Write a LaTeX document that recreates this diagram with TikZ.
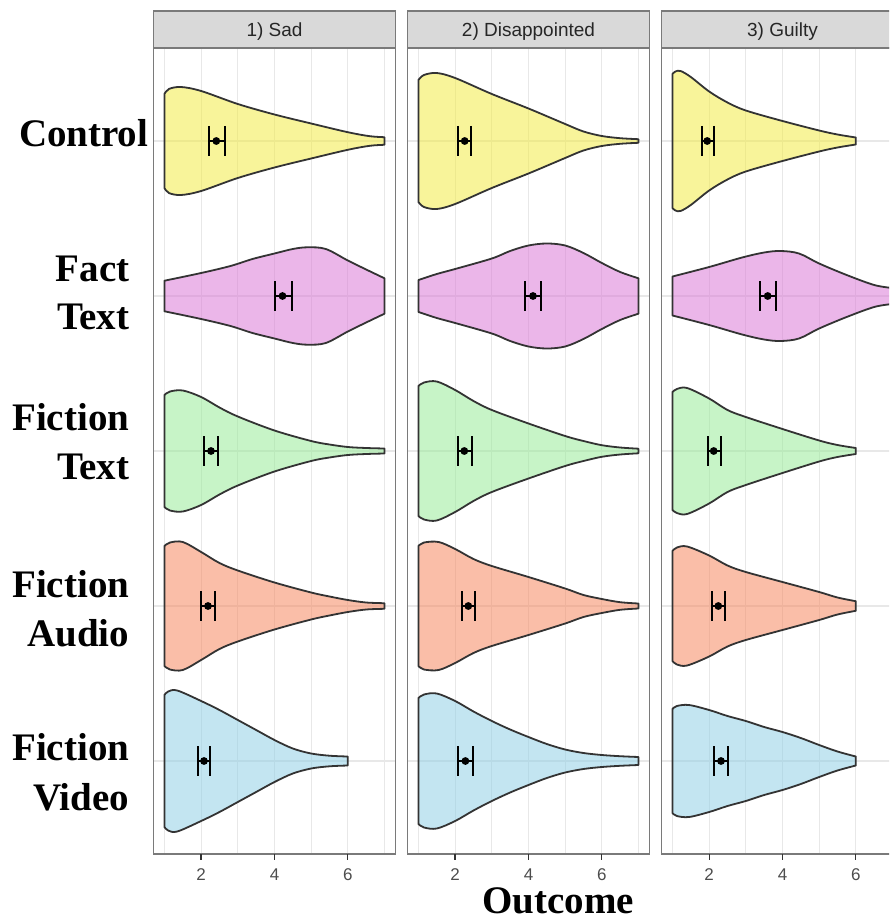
\documentclass[tikz,border=0pt]{standalone}
\usepackage{fontspec}
\setmainfont{Liberation Serif}
\newfontfamily\stripfont{Liberation Sans}

\definecolor{vyellow}{HTML}{F3EB37}
\definecolor{vpink}{HTML}{D96FD5}
\definecolor{vgreen}{HTML}{91EB91}
\definecolor{vsalmon}{HTML}{F77F53}
\definecolor{vblue}{HTML}{89CDE5}
\definecolor{gridgray}{HTML}{E8E8E8}
\definecolor{framegray}{HTML}{7A7A7A}
\definecolor{stripfill}{HTML}{D9D9D9}
\definecolor{outline}{HTML}{333333}
\definecolor{ticktext}{HTML}{4D4D4D}

% one violin: #1 x of value 0 (pt), #2 row centre (pt), #3 colour, #4 list value/half-width
\newcommand\violin[4]{%
  \gdef\vup{}\gdef\vdn{}%
  \foreach \vx/\vh in {#4}{\xdef\vup{\vup(\vx,\vh)}\xdef\vdn{(\vx,-\vh)\vdn}}%
  \begin{scope}[shift={(#1,#2)},x=36.67pt,y=1pt]
    \edef\vpath{\noexpand\draw[violinbody,fill=#3] plot[smooth,tension=0.55] coordinates {\vup}
      -- plot[smooth,tension=0.55] coordinates {\vdn} -- cycle;}%
    \vpath
  \end{scope}}

% mean with interval: #1 left cap, #2 mean, #3 right cap, #4 row centre
\newcommand\meanbar[4]{%
  \draw[ebar] (#1,#4-15) -- (#1,#4+15) (#1,#4) -- (#3,#4) (#3,#4-15) -- (#3,#4+15);
  \fill (#2,#4) circle[radius=3.9pt];}

\begin{document}
\begin{tikzpicture}[x=1pt,y=-1pt,
  violinbody/.style={draw=outline,line width=1.8pt,fill opacity=0.5,line join=round},
  ebar/.style={black,line width=2pt},
  majorgrid/.style={gridgray,line width=1.2pt},
  minorgrid/.style={gridgray,line width=0.8pt},
  frame/.style={draw=framegray,line width=1.3pt},
  stripbox/.style={draw=framegray,fill=stripfill,line width=1.3pt},
  striptext/.style={font=\stripfont\fontsize{19}{22}\selectfont,text=black!85,anchor=base},
  ticklab/.style={font=\stripfont\fontsize{17}{20}\selectfont,text=ticktext,anchor=base},
  rowlab/.style={font=\bfseries\fontsize{39}{46}\selectfont,anchor=base east,inner sep=0pt},
  tickmark/.style={outline,line width=1.3pt}]

\useasboundingbox (0,0) rectangle (889,920);
\fill[white] (0,0) rectangle (889,920);
\clip (0,0) rectangle (889,920);

% grid of the three panels
\foreach \xo in {127.8,381.8,635.8}{
  \foreach \v in {1,3,5,7}
    \draw[minorgrid] ({\xo+\v*36.67},48) -- ({\xo+\v*36.67},854);
  \foreach \v in {2,4,6}
    \draw[majorgrid] ({\xo+\v*36.67},48) -- ({\xo+\v*36.67},854);
  \foreach \r in {141,296,451,606,761}
    \draw[majorgrid] ({\xo+25.67},\r) -- ({\xo+267.7},\r);
}

% Control
\violin{127.8}{141}{vyellow}{1/47,1.12/52,1.45/54,2/50,3/37,4/26.5,5/17.5,6/8.8,6.6/4.8,7/3.8}
\violin{381.8}{141}{vyellow}{1/61,1.15/66,1.5/68,2/63,3/47,4/32.5,5/17,5.5/9.5,6/5,6.5/2.8,7/1.8}
\violin{635.8}{141}{vyellow}{1/67,1.08/69.5,1.22/70,1.5/64,2/49.5,2.5/38.5,3/30.5,4/20,5/10.5,5.5/6.5,6/3.5}
% Fact Text
\violin{127.8}{296}{vpink}{1/15.3,2/23,2.8/30,3.4/37,4/42.5,4.5/47,4.9/48.7,5.4/47,6/35.5,6.5/26.5,7/17.7}
\violin{381.8}{296}{vpink}{1/16,1.5/22,2/27,3/37.5,3.5/45,4/50.5,4.5/52.5,5/50.5,5.5/43,6/33,6.5/24,7/17.7}
\violin{635.8}{296}{vpink}{1/19.5,2/29,2.9/38.5,3.5/43.5,3.95/45,4.45/42.5,5/32.5,5.75/21,6.5/11,7/8}
% Fiction Text
\violin{127.8}{451}{vgreen}{1/56,1.15/59.5,1.5/60.5,2/54,2.5/43.5,3/34.5,4/20.5,5/10,5.5/6.5,6/4,6.5/3,7/2.5}
\violin{381.8}{451}{vgreen}{1/65,1.15/68.5,1.5/69.5,2/61,2.5/50,3/41,4/27.5,5/15,5.5/10,6/5.8,6.5/3.5,7/2.3}
\violin{635.8}{451}{vgreen}{1/59,1.12/62,1.4/63,2/52.5,2.5/41,3/34,4/22,5/10.5,5.5/6,6/3}
% Fiction Audio
\violin{127.8}{606}{vsalmon}{1/60,1.15/63.5,1.5/64,2/54,2.5/43,3/35.5,4/23.5,5/13.5,5.5/9.5,6/6,6.5/3.5,7/2.8}
\violin{381.8}{606}{vsalmon}{1/60,1.15/63.5,1.55/64,2/57,2.5/47,3/40,4/29,5/17.5,5.5/11,6/7,6.5/3.8,7/2.5}
\violin{635.8}{606}{vsalmon}{1/55,1.12/58.5,1.4/59.5,2/50.5,2.5/40.5,3/34,4/24,5/14,5.5/8.5,6/4.8}
% Fiction Video
\violin{127.8}{761}{vblue}{1/66,1.1/69.5,1.35/70.5,2/60,2.5/51,3/41,3.5/31,4/21,4.5/12.5,5/7.5,5.5/5.3,6/4.5}
\violin{381.8}{761}{vblue}{1/63,1.15/66.5,1.5/67.5,2/60,2.5/49.5,3/40,3.5/31.5,4/24,4.5/17,5/11.5,5.5/8,6/6,6.5/4.8,7/4}
\violin{635.8}{761}{vblue}{1/52,1.12/55,1.45/56,2/51,2.5/45,3/40,3.5/34,4/29,4.5/23,5/16,5.5/9.5,6/4.5}

% means with intervals
\meanbar{208.6}{216.3}{224.5}{141}
\meanbar{457.5}{464.7}{471.3}{141}
\meanbar{701.8}{707.2}{713.7}{141}
\meanbar{274.6}{282.5}{291.5}{296}
\meanbar{525}{533}{541.4}{296}
\meanbar{760.1}{767.7}{775.8}{296}
\meanbar{204}{211}{218.3}{451}
\meanbar{458}{464.3}{471.7}{451}
\meanbar{708}{713.7}{721}{451}
\meanbar{201.2}{208}{215.4}{606}
\meanbar{462}{468.3}{475}{606}
\meanbar{711.5}{718.3}{725}{606}
\meanbar{197.8}{204}{210.3}{761}
\meanbar{458}{465.4}{472.8}{761}
\meanbar{714.3}{721}{728}{761}

% panel frames, strips, ticks
\foreach \xo/\lab/\nm in {127.8/{1) Sad}/sad,381.8/{2) Disappointed}/dis,635.8/{3) Guilty}/guilty}{
  \draw[frame] ({\xo+25.67},48) rectangle ({\xo+267.7},854);
  \draw[stripbox] ({\xo+25.67},11) rectangle ({\xo+267.7},48);
  \node[striptext] (strip-\nm) at ({\xo+146.7},37) {\lab};
  \foreach \v in {2,4,6}{
    \draw[tickmark] ({\xo+\v*36.67},854) -- ({\xo+\v*36.67},859.5);
    \node[ticklab] (tick-\nm-\v) at ({\xo+\v*36.67},880) {\v};
  }
}

% condition labels
\node[rowlab] (lab-control) at (148.5,147) {Control};
\node[rowlab] (lab-fact1) at (129.5,281) {Fact};
\node[rowlab] (lab-fact2) at (129.5,329) {Text};
\node[rowlab] (lab-ftext1) at (129.5,430) {Fiction};
\node[rowlab] (lab-ftext2) at (129.5,479) {Text};
\node[rowlab] (lab-faudio1) at (129.5,597) {Fiction};
\node[rowlab] (lab-faudio2) at (129.5,646) {Audio};
\node[rowlab] (lab-fvideo1) at (129.5,760) {Fiction};
\node[rowlab] (lab-fvideo2) at (129.5,810) {Video};

% axis title
\node[font=\bfseries\fontsize{39}{46}\selectfont,anchor=base,inner sep=0pt] (xtitle) at (558,913) {Outcome};
\end{tikzpicture}
\end{document}
